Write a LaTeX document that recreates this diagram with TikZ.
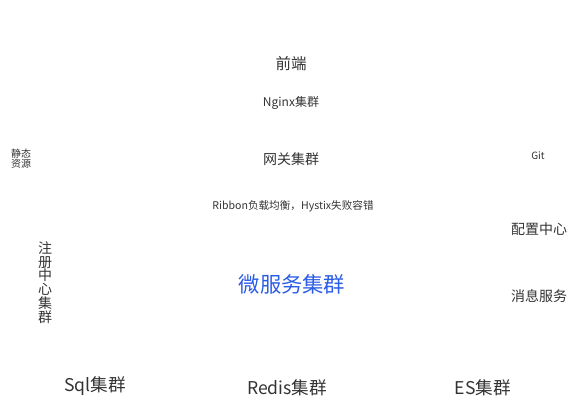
\documentclass[tikz,border=0pt]{standalone}
\usepackage{fontspec}
\setmainfont{Noto Sans CJK SC}
\definecolor{txt}{HTML}{333333}
\definecolor{blu}{HTML}{2B5CE6}
\tikzset{
  lbl/.style={inner sep=0pt, text=txt, font=\fontsize{#1}{#1}\selectfont},
}
\begin{document}
\begin{tikzpicture}[x=1pt,y=-1pt]
\useasboundingbox (0,0) rectangle (581,415);
\begin{scope}[yshift=-1.5pt]
\node[lbl=15.5] (fe) at (291,62) {前端};
\node[lbl=12] (ng) at (291,101) {Nginx集群};
\node[lbl=14] (gw) at (291,158) {网关集群};
\node[lbl=10.6] (rb) at (293,205) {Ribbon负载均衡，Hystix失败容错};
\node[lbl=10, align=center, font=\fontsize{10}{10}\selectfont] (st) at (21,157) {静态\\资源};
\node[lbl=10] (git) at (538,154) {Git};
\node[lbl=14] (cfg) at (539,228) {配置中心};
\node[lbl=14] (msg) at (539,295) {消息服务};
\node[lbl=14, align=center, font=\fontsize{14}{13.8}\selectfont] (reg) at (45,281) {注\\册\\中\\心\\集\\群};
\node[lbl=21.3, text=blu] (ms) at (292,283) {微服务集群};
\node[lbl=17.6] (sql) at (95,385) {Sql集群};
\node[lbl=17.6] (rd) at (287,386) {Redis集群};
\node[lbl=17.6] (es) at (483,386) {ES集群};
\end{scope}
\end{tikzpicture}
\end{document}
